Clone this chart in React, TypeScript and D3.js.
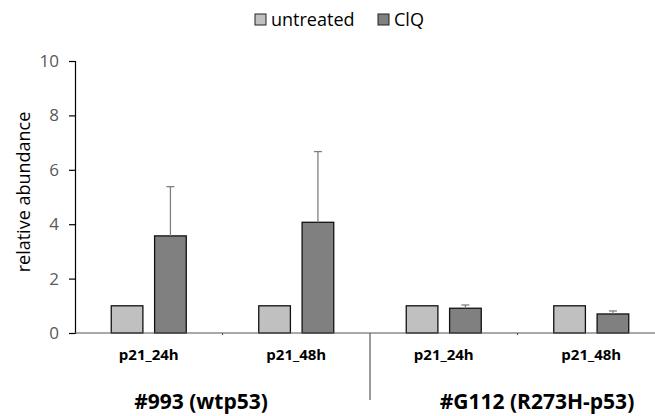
import React, { useRef, useEffect } from "react";
import * as d3 from "d3";

const categories = ["p21_24h", "p21_48h", "p21_24h ", "p21_48h "];
const groups = ["#993 (wtp53)", "#G112 (R273H-p53)"];
const seriesNames = ["untreated", "ClQ"];
const untreated = [1, 1, 1, 1];
const clq = [3.57, 4.07, 0.91, 0.7];
const clqErr = [1.81, 2.6, 0.12, 0.11];
const yTicks = [0, 2, 4, 6, 8, 10];

const colors = ["#c0c0c0", "#808080"];
const font = "'Open Sans', 'DejaVu Sans', sans-serif";

const App = () => {
  const ref = useRef<SVGSVGElement>(null);

  useEffect(() => {
    if (!ref.current) return;
    const svg = d3.select(ref.current);
    svg.selectAll("*").remove();

    const left = 75;
    const bandW = 147.5;
    const x = d3.scaleBand().domain(categories).range([left, left + bandW * 4]);
    const inner = d3.scaleBand().domain(seriesNames).range([0, 75]).paddingInner(0.27);
    const y = d3.scaleLinear().domain([0, 10]).range([333, 61]);

    // y axis
    const yAxis = svg.append("g")
      .attr("transform", `translate(${left},0)`)
      .call(d3.axisLeft(y).tickValues(yTicks).tickSize(6).tickPadding(10));
    yAxis.select(".domain").attr("stroke", "#000").attr("stroke-width", 1.2);
    yAxis.selectAll(".tick line").attr("stroke", "#000").attr("stroke-width", 1.2);
    yAxis.selectAll(".tick text")
      .attr("fill", "#595959")
      .style("font-family", font)
      .style("font-size", "17px");

    svg.append("text")
      .attr("transform", `translate(30,192) rotate(-90)`)
      .attr("text-anchor", "middle")
      .style("font-family", font)
      .style("font-size", "18px")
      .attr("fill", "#000")
      .text("relative abundance");

    const data = categories.map((c, i) => ({ c, vals: [untreated[i], clq[i]], err: [0, clqErr[i]] }));

    const g = svg.selectAll(".grp").data(data).enter().append("g")
      .attr("transform", (d) => `translate(${(x(d.c) as number) + (bandW - 75) / 2},0)`);

    g.selectAll("rect")
      .data((d) => d.vals.map((v, j) => ({ v, j, e: d.err[j] })))
      .enter().append("rect")
      .attr("x", (d) => inner(seriesNames[d.j]) as number)
      .attr("y", (d) => y(d.v))
      .attr("width", inner.bandwidth())
      .attr("height", (d) => y(0) - y(d.v))
      .attr("fill", (d) => colors[d.j])
      .attr("stroke", "#111")
      .attr("stroke-width", 1.3);

    // error bars for ClQ
    g.each(function (d) {
      const cx = (inner("ClQ") as number) + inner.bandwidth() / 2;
      const top = y(d.vals[1] + d.err[1]);
      const sel = d3.select(this);
      sel.append("line")
        .attr("x1", cx).attr("x2", cx)
        .attr("y1", y(d.vals[1])).attr("y2", top)
        .attr("stroke", "#808080").attr("stroke-width", 1.3);
      sel.append("line")
        .attr("x1", cx - 4).attr("x2", cx + 4)
        .attr("y1", top).attr("y2", top)
        .attr("stroke", "#808080").attr("stroke-width", 1.3);
    });

    // x axis
    svg.append("line")
      .attr("x1", left).attr("x2", left + bandW * 4)
      .attr("y1", y(0)).attr("y2", y(0))
      .attr("stroke", "#555").attr("stroke-width", 1.2);
    [1, 3].forEach((k) => {
      const xx = left + bandW * k;
      svg.append("line")
        .attr("x1", xx).attr("x2", xx)
        .attr("y1", y(0)).attr("y2", y(0) + 2)
        .attr("stroke", "#555").attr("stroke-width", 1.2);
    });
    svg.append("line")
      .attr("x1", left + bandW * 2).attr("x2", left + bandW * 2)
      .attr("y1", y(0)).attr("y2", 400)
      .attr("stroke", "#555").attr("stroke-width", 1.2);

    svg.selectAll(".cat").data(categories).enter().append("text")
      .attr("x", (d) => (x(d) as number) + bandW / 2)
      .attr("y", 360)
      .attr("text-anchor", "middle")
      .style("font-family", font)
      .style("font-size", "15px")
      .style("font-weight", "bold")
      .attr("fill", "#000")
      .text((d) => d.trim());

    const groupX = [201, 537];
    svg.selectAll(".grpLabel").data(groups).enter().append("text")
      .attr("x", (d, i) => groupX[i])
      .attr("y", 409)
      .attr("text-anchor", "middle")
      .style("font-family", font)
      .style("font-size", "21px")
      .style("font-weight", "bold")
      .attr("fill", "#000")
      .text((d) => d);

    // legend
    const legX = [255, 378];
    const leg = svg.selectAll(".leg").data(seriesNames).enter().append("g")
      .attr("transform", (d, i) => `translate(${legX[i]},14)`);
    leg.append("rect")
      .attr("width", 11).attr("height", 11)
      .attr("fill", (d, i) => colors[i])
      .attr("stroke", "#222").attr("stroke-width", 1);
    leg.append("text")
      .attr("x", 16).attr("y", 12)
      .style("font-family", font)
      .style("font-size", "18px")
      .attr("fill", "#000")
      .text((d) => d);
  }, []);

  return (
    <svg ref={ref} width={655} height={416}
      style={{ position: "absolute", left: 0, top: 0, background: "#fff" }} />
  );
};

export default App;
